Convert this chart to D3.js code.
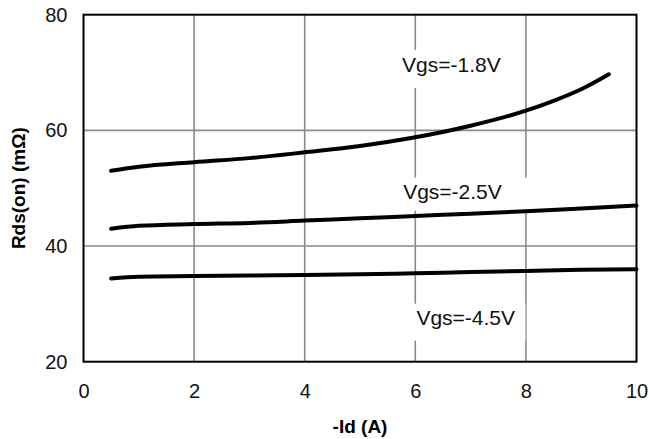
<!DOCTYPE html>
<html>
<head>
<meta charset="utf-8">
<script src="https://cdn.jsdelivr.net/npm/d3@7"></script>
<style>
  body { margin: 0; background: #fff; }
  text { font-family: Arial, "Liberation Sans", sans-serif; }
</style>
</head>
<body>
<svg id="chart" width="649" height="439"></svg>
<script>
// drain current readings, -Id (A)
var idShort = [0.5, 1, 2, 3, 4, 5, 6, 7, 8, 8.5, 9, 9.5];
var idLong = [0.5, 1, 2, 3, 4, 5, 6, 7, 8, 9, 10];
// Rds(on) in mOhm for each gate voltage
var rds18 = [53.0, 53.7, 54.5, 55.2, 56.2, 57.3, 58.8, 60.8, 63.4, 65.1, 67.1, 69.7];
var rds25 = [43.0, 43.5, 43.8, 44.0, 44.4, 44.8, 45.2, 45.6, 46.0, 46.5, 47.0];
var rds45 = [34.4, 34.7, 34.8, 34.9, 35.0, 35.1, 35.3, 35.5, 35.7, 35.9, 36.0];
var seriesNames = ["Vgs=-1.8V", "Vgs=-2.5V", "Vgs=-4.5V"];
var xTicks = [0, 2, 4, 6, 8, 10];
var yTicks = [20, 40, 60, 80];

var svg = d3.select("#chart");
var pLeft = 83.5, pRight = 636.5, pTop = 14.7, pBottom = 361.7;

var x = d3.scaleLinear().domain([0, 10]).range([pLeft, pRight]);
var y = d3.scaleLinear().domain([20, 80]).range([pBottom, pTop]);

// grid
svg.append("g").selectAll("line")
    .data(xTicks.slice(1, -1))
    .enter().append("line")
    .attr("x1", function (d) { return x(d); })
    .attr("x2", function (d) { return x(d); })
    .attr("y1", pTop).attr("y2", pBottom)
    .attr("stroke", "#8a8a8a").attr("stroke-width", 1.6);
svg.append("g").selectAll("line")
    .data(yTicks.slice(1, -1))
    .enter().append("line")
    .attr("y1", function (d) { return y(d); })
    .attr("y2", function (d) { return y(d); })
    .attr("x1", pLeft).attr("x2", pRight)
    .attr("stroke", "#8a8a8a").attr("stroke-width", 1.6);

// label boxes (white, cover the grid) + text
var labels = [
    { name: seriesNames[0], x: 5.76, y: 70.1, bx0: -7, bx1: 106, by0: -22, by1: 16 },
    { name: seriesNames[1], x: 5.78, y: 48.2, bx0: -8, bx1: 128, by0: -21, by1: 12 },
    { name: seriesNames[2], x: 6.02, y: 26.4, bx0: -3, bx1: 109, by0: -21, by1: 16 }
];
labels.forEach(function (l) {
    var tx = x(l.x), ty = y(l.y);
    svg.append("rect")
        .attr("x", tx + l.bx0).attr("y", ty + l.by0)
        .attr("width", l.bx1 - l.bx0).attr("height", l.by1 - l.by0)
        .attr("fill", "#fff");
    svg.append("text")
        .attr("x", tx).attr("y", ty)
        .attr("font-size", 21)
        .attr("fill", "#111")
        .text(l.name);
});

// curves
var line = d3.line()
    .x(function (d) { return x(d[0]); })
    .y(function (d) { return y(d[1]); })
    .curve(d3.curveMonotoneX);

var series = [
    d3.zip(idShort, rds18),
    d3.zip(idLong, rds25),
    d3.zip(idLong, rds45)
];
svg.append("g").selectAll("path")
    .data(series)
    .enter().append("path")
    .attr("d", line)
    .attr("fill", "none")
    .attr("stroke", "#000")
    .attr("stroke-width", 4)
    .attr("stroke-linecap", "round");

// frame
svg.append("rect")
    .attr("x", pLeft).attr("y", pTop)
    .attr("width", pRight - pLeft).attr("height", pBottom - pTop)
    .attr("fill", "none").attr("stroke", "#000").attr("stroke-width", 2);

// axes, tick labels only
var xAxis = d3.axisBottom(x).tickValues(xTicks).tickSize(0).tickPadding(22)
    .tickFormat(d3.format("d"));
var gx = svg.append("g").attr("transform", "translate(0," + pBottom + ")").call(xAxis);
gx.select(".domain").remove();
gx.selectAll("text").attr("font-size", 20).attr("font-family", "Arial, 'Liberation Sans', sans-serif").attr("fill", "#111");

var yAxis = d3.axisLeft(y).tickValues(yTicks).tickSize(0).tickPadding(16)
    .tickFormat(d3.format("d"));
var gy = svg.append("g").attr("transform", "translate(" + pLeft + ",0)").call(yAxis);
gy.select(".domain").remove();
gy.selectAll("text").attr("font-size", 20).attr("font-family", "Arial, 'Liberation Sans', sans-serif").attr("fill", "#111");

// titles
svg.append("text")
    .attr("x", (pLeft + pRight) / 2).attr("y", 433)
    .attr("text-anchor", "middle")
    .attr("font-size", 19).attr("font-weight", "bold")
    .text("-Id (A)");
svg.append("text")
    .attr("transform", "translate(25," + ((pTop + pBottom) / 2) + ") rotate(-90)")
    .attr("text-anchor", "middle")
    .attr("font-size", 19).attr("font-weight", "bold")
    .text("Rds(on) (mΩ)");
</script>
</body>
</html>
